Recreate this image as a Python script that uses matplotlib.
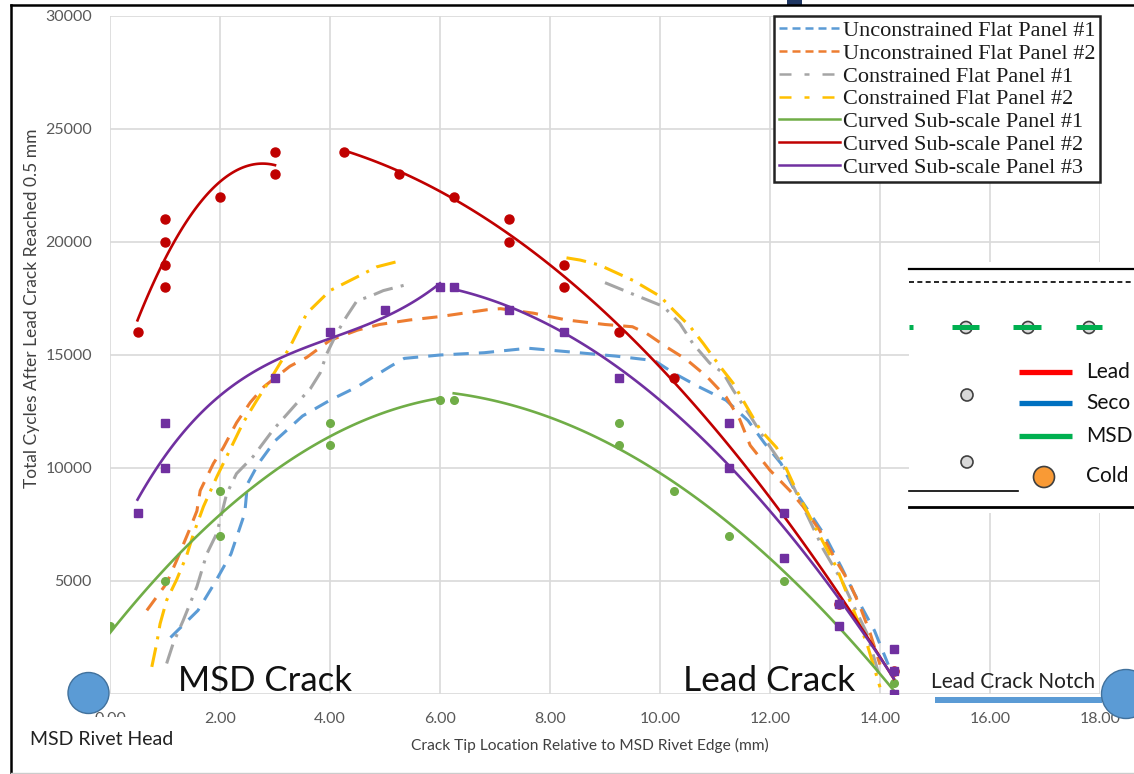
import matplotlib
matplotlib.use('Agg')
import matplotlib.pyplot as plt
from matplotlib.lines import Line2D
from matplotlib.patches import Ellipse, Rectangle
import numpy as np

plt.rcParams['font.family'] = ['Lato', 'DejaVu Sans']

# ---- values (x: mm from MSD rivet edge, y: cycles) ----
# curved sub-scale panels, measured points (left = MSD crack, right = lead crack)
csp1_left_x = [0, 1, 2, 2, 4, 4, 6]
csp1_left_y = [3000, 5000, 9000, 7000, 12000, 11000, 13000]
csp1_right_x = [6.25, 9.25, 9.25, 10.25, 11.25, 12.25, 13.25, 14.25]
csp1_right_y = [13000, 12000, 11000, 9000, 7000, 5000, 3000, 500]

csp2_left_x = [0.5, 1, 1, 1, 1, 2, 3, 3]
csp2_left_y = [16000, 21000, 20000, 19000, 18000, 22000, 24000, 23000]
csp2_right_x = [4.25, 5.25, 6.25, 7.25, 7.25, 8.25, 8.25, 9.25, 10.25, 13.25, 14.25]
csp2_right_y = [24000, 23000, 22000, 21000, 20000, 19000, 18000, 16000, 14000, 4000, 1000]

csp3_left_x = [0.5, 1, 1, 3, 4, 5, 6]
csp3_left_y = [8000, 12000, 10000, 14000, 16000, 17000, 18000]
csp3_right_x = [6.25, 7.25, 8.25, 9.25, 11.25, 11.25, 12.25, 12.25, 13.25, 13.25, 14.25, 14.25, 14.25]
csp3_right_y = [18000, 17000, 16000, 14000, 12000, 10000, 8000, 6000, 4000, 3000, 2000, 1000, 0]

# flat panels (lines only)
ufp1_x = [1.1, 1.6, 1.9, 2.2, 2.45, 2.5, 2.7, 3.0, 3.5, 4.0, 4.5, 5.1, 5.35, 6.0, 6.8, 7.6,
          8.3, 9.2, 9.9, 10.25, 10.7, 11.2, 11.6, 11.9, 12.2, 12.45, 12.7, 13.0, 13.3, 13.5,
          13.7, 13.9, 14.0, 14.15]
ufp1_y = [2500, 3700, 4900, 6200, 8000, 9300, 10200, 11200, 12300, 13000, 13600, 14500, 14850,
          15000, 15100, 15300, 15150, 14950, 14750, 14200, 13600, 13000, 12100, 11100, 10200,
          9000, 8100, 7000, 5600, 4600, 3700, 2800, 2200, 1300]

ufp2_x = [0.67, 1.03, 1.21, 1.45, 1.58, 1.64, 1.88, 2.06, 2.3, 2.55, 2.8, 3.27, 3.58, 4.0, 4.5,
          4.9, 5.45, 6.0, 6.85, 7.1, 7.7, 8.3, 9.0, 9.5, 9.76, 10.12, 10.48, 10.85, 11.2, 11.45,
          11.64, 12.0, 12.36, 12.6, 12.9, 13.2, 13.45, 13.64, 13.82, 14.0]
ufp2_y = [3700, 4900, 5900, 7300, 8100, 9000, 10200, 10900, 12000, 12900, 13600, 14500, 14900,
          15650, 16100, 16350, 16550, 16700, 17000, 17050, 16850, 16550, 16350, 16250, 15950,
          15350, 14800, 14050, 13150, 12150, 11000, 9900, 9000, 8300, 7250, 5900, 4900, 3850,
          2700, 1300]

cfp1_x = [1.03, 1.15, 1.33, 1.58, 1.76, 1.94, 2.12, 2.3, 2.6, 2.97, 3.39, 3.64, 3.82, 3.94,
          4.12, 4.3, 4.49, 4.73, 4.97, 5.45, np.nan,
          9.0, 9.5, 10.06, 10.36, 10.6, 10.9, 11.15, 11.33, 11.64, 11.9, 12.25, 12.6, 12.97,
          13.33, 13.58, 13.76, 14.0]
cfp1_y = [1350, 2250, 3250, 4750, 6200, 7100, 8850, 9750, 10500, 11700, 12850, 13500, 14200,
          15050, 15950, 16700, 17400, 17600, 17850, 18150, np.nan,
          18200, 17700, 17150, 16400, 15500, 14650, 14200, 13450, 12300, 11300, 10050, 8300,
          6400, 4900, 3600, 2700, 700]

cfp2_x = [0.76, 0.85, 0.91, 1.03, 1.21, 1.39, 1.52, 1.7, 1.94, 2.18, 2.42, 2.67, 2.91, 3.27,
          3.58, 4.0, 4.49, 4.85, 5.33, np.nan,
          8.3, 8.55, 8.9, 9.51, 10.0, 10.24, 10.55, 10.79, 11.09, 11.33, 11.58, 11.82, 12.12,
          12.48, 12.85, 13.21, 13.52, 13.76, 14.0]
cfp2_y = [1200, 2250, 3100, 4150, 5050, 6100, 7100, 8300, 9600, 10800, 12000, 13000, 13900,
          15350, 16850, 17850, 18450, 18900, 19200, np.nan,
          19300, 19200, 18980, 18300, 17600, 17000, 16250, 15500, 14500, 13750, 12700, 11700,
          10900, 9000, 7250, 5600, 3700, 2250, 300]

labels = ['Unconstrained Flat Panel #1', 'Unconstrained Flat Panel #2',
          'Constrained Flat Panel #1', 'Constrained Flat Panel #2',
          'Curved Sub-scale Panel #1', 'Curved Sub-scale Panel #2',
          'Curved Sub-scale Panel #3']
colors = ['#5B9BD5', '#ED7D31', '#A5A5A5', '#FFC000', '#70AD47', '#C00000', '#7030A0']

W, H = 1134, 774


def fxy(px, py):
    # pixel position on the picture -> figure fraction
    return px / W, 1 - py / H


fig = plt.figure(figsize=(W / 100, H / 100), dpi=100)
ax = fig.add_axes([110 / W, 1 - 694 / H, 990 / W, 678 / H])

# flat panels
dash = (5, 3.3)
dashdot = (6.5, 2.7, 1, 2.7)
ax.plot(ufp1_x, ufp1_y, color=colors[0], lw=2.2, dashes=dash)
ax.plot(ufp2_x, ufp2_y, color=colors[1], lw=2.2, dashes=dash)
ax.plot(cfp1_x, cfp1_y, color=colors[2], lw=2.2, dashes=dashdot)
ax.plot(cfp2_x, cfp2_y, color=colors[3], lw=2.2, dashes=dashdot)


# curved sub-scale panels: points + polynomial trendlines
def trend(x, y, deg, color):
    c = np.polyfit(x, y, deg)
    xs = np.linspace(min(x), max(x), 100)
    ax.plot(xs, np.polyval(c, xs), color=color, lw=1.9)


series = [
    (csp1_left_x, csp1_left_y, csp1_right_x, csp1_right_y, colors[4], 'o', 5.5, 2, 2),
    (csp2_left_x, csp2_left_y, csp2_right_x, csp2_right_y, colors[5], 'o', 6.5, 2, 2),
    (csp3_left_x, csp3_left_y, csp3_right_x, csp3_right_y, colors[6], 's', 6, 3, 2),
]
for lx, ly, rx, ry, col, mk, ms, dl, dr in series:
    ax.plot(lx, ly, ls='none', marker=mk, ms=ms, color=col, mec=col)
    ax.plot(rx, ry, ls='none', marker=mk, ms=ms, color=col, mec=col)
    trend(lx, ly, dl, col)
    trend(rx, ry, dr, col)

ax.set_xlim(0, 18)
ax.set_ylim(0, 30000)
ax.set_xticks(np.arange(0, 19, 2))
ax.set_xticklabels(['%.2f' % v for v in np.arange(0, 19, 2)])
ax.set_yticks(np.arange(0, 30001, 5000))
ax.grid(True, color='#D9D9D9', lw=1.2)
ax.set_axisbelow(True)
for s in ax.spines.values():
    s.set_visible(False)
ax.tick_params(length=0, labelsize=11.5, labelcolor='#595959', pad=13)

fig.text(*fxy(590, 745), 'Crack Tip Location Relative to MSD Rivet Edge (mm)', fontsize=11.2,
         color='#404040', ha='center', va='center')
fig.text(*fxy(32, 308), 'Total Cycles After Lead Crack Reached 0.5 mm', fontsize=12.5,
         color='#404040', ha='center', va='center', rotation=90)

# legend
lw_leg = 1.8
handles = [
    Line2D([], [], color=colors[0], lw=lw_leg, dashes=(3.2, 2)),
    Line2D([], [], color=colors[1], lw=lw_leg, dashes=(3.2, 2)),
    Line2D([], [], color=colors[2], lw=lw_leg, dashes=(4.8, 5.2, 2, 5.2)),
    Line2D([], [], color=colors[3], lw=lw_leg, dashes=(4.8, 5.2, 2, 5.2)),
    Line2D([], [], color=colors[4], lw=lw_leg),
    Line2D([], [], color=colors[5], lw=lw_leg),
    Line2D([], [], color=colors[6], lw=lw_leg),
]
leg = ax.legend(handles, labels, loc='upper right', borderaxespad=0, fancybox=False,
                framealpha=1, edgecolor='#222222', labelspacing=0.1,
                handlelength=2.75, handletextpad=0.15, borderpad=0.2,
                prop={'family': 'Liberation Serif', 'size': 16})
leg.get_frame().set_linewidth(1.8)
leg.set_zorder(10)
for t in leg.get_texts():
    t.set_color('#1a1a1a')

# ---- annotations drawn on top of the chart ----
blue = '#5B9BD5'
fig.add_artist(Ellipse(fxy(88.5, 693), 41 / W, 41 / H, transform=fig.transFigure,
                       facecolor=blue, edgecolor='#41719C', lw=1))
fig.add_artist(Rectangle(fxy(935, 703), 167 / W, 6 / H, transform=fig.transFigure,
                         facecolor=blue, edgecolor='none'))
fig.add_artist(Ellipse(fxy(1126, 694), 49 / W, 49 / H, transform=fig.transFigure,
                       facecolor=blue, edgecolor='#41719C', lw=1))
fig.text(*fxy(178, 691), 'MSD Crack', fontsize=25, color='#111111', va='baseline')
fig.text(*fxy(683, 691), 'Lead Crack', fontsize=25.5, color='#111111', va='baseline')
fig.text(*fxy(931, 688), 'Lead Crack Notch', fontsize=15, color='#222222', va='baseline')
# white text box of the rivet-head label hides the lower part of the 0.00 tick label
fig.add_artist(Rectangle(fxy(22, 762), 168 / W, 45 / H, transform=fig.transFigure,
                         facecolor='white', edgecolor='none'))
fig.text(*fxy(30, 745), 'MSD Rivet Head', fontsize=14, color='#222222', va='baseline')

# piece of another legend covering the right side
fig.add_artist(Rectangle(fxy(909, 513), 240 / W, 251 / H, transform=fig.transFigure,
                         facecolor='white', edgecolor='none'))


def hline(x0, x1, y, **kw):
    fig.add_artist(Line2D([x0 / W, x1 / W], [1 - y / H, 1 - y / H],
                          transform=fig.transFigure, **kw))


hline(909, 1134, 269, color='black', lw=1.6)
hline(909, 1134, 282, color='black', lw=1.2, dashes=(3, 2))
for x0, x1 in [(909, 913), (952, 979), (1013, 1041), (1076, 1102)]:
    hline(x0, x1, 327.5, color='#00B050', lw=3.6, solid_capstyle='butt')
for cx, cy in [(966, 327.5), (1028, 327.5), (1089, 327.5), (967, 395), (967, 462)]:
    fig.add_artist(Ellipse(fxy(cx, cy), 12 / W, 12 / H, transform=fig.transFigure,
                           facecolor='#D9D9D9', edgecolor='#404040', lw=1.2))
for y, c, t in [(372, '#FF0000', 'Lead'), (403, '#0070C0', 'Seco'), (436, '#00B050', 'MSD')]:
    hline(1019, 1072, y, color=c, lw=3.8, solid_capstyle='butt')
    fig.text(*fxy(1086, y), t, fontsize=15, color='#111111', va='center')
fig.add_artist(Ellipse(fxy(1044, 477), 21 / W, 21 / H, transform=fig.transFigure,
                       facecolor='#F99A35', edgecolor='#404040', lw=1.2))
fig.text(*fxy(1086, 476), 'Cold', fontsize=15, color='#111111', va='center')
hline(909, 1018, 491, color='black', lw=1.2)
hline(909, 1134, 507, color='black', lw=2)

# frame of the picture
fig.add_artist(Line2D([11 / W, 11 / W], [0, 1 - 5 / H], transform=fig.transFigure,
                      color='black', lw=1.8))
hline(11, 1134, 5, color='black', lw=1.8)
hline(11, 1134, 772.5, color='#CCCCCC', lw=1)
fig.add_artist(Rectangle(fxy(787, 5), 15 / W, 5 / H, transform=fig.transFigure,
                         facecolor='#203864', edgecolor='none'))

fig.savefig('out.png', dpi=100)
